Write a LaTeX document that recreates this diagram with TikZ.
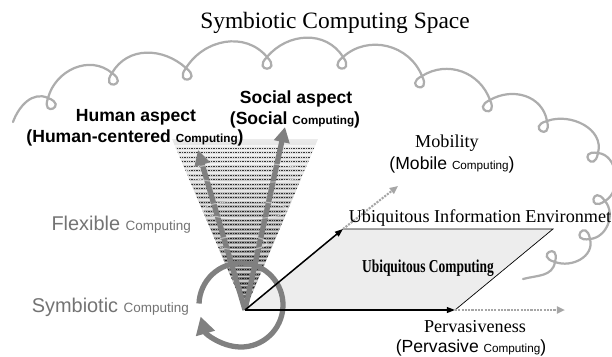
\documentclass[tikz,border=0pt]{standalone}
\usepackage{fontspec}
\setmainfont{Liberation Serif}
\setsansfont{Liberation Sans}
\usetikzlibrary{arrows.meta}

\newcommand{\cmp}{{\fontsize{10}{12}\selectfont Computing}}
\newcommand{\cmpg}{{\fontsize{11.5}{13}\selectfont Computing}}

\begin{document}
\begin{tikzpicture}[x=0.03cm, y=-0.03cm,
  cloudline/.style={black!32, line width=1.9pt, line cap=round},
  seriflabel/.style={font=\fontsize{15.5}{18}\selectfont},
  sanslabel/.style={font=\fontsize{15}{18}\selectfont\sffamily},
  aspect/.style={font=\fontsize{15}{18}\selectfont\sffamily\bfseries},
  graylabel/.style={text=black!55, font=\fontsize{17}{20}\selectfont\sffamily},
  bigarrow/.style={black!50, line width=4.5pt, -{Triangle[length=13pt,width=13pt]}},
  blackarrow/.style={line width=1.3pt, -{Triangle[length=7pt,width=5pt]}},
  dotarrow/.style={black!35, densely dotted, line width=1.8pt, -{Triangle[length=7pt,width=6pt]}}]
    \useasboundingbox (0,0) rectangle (612,356);

    % title and cloud
    \node[font=\fontsize{20}{24}\selectfont] (title) at (335,23) {Symbiotic Computing Space};
    \foreach \ax/\ay/\at/\bx/\by/\bt/\L in {
        48/98/-25/112/73/-10/29, 112/73/-10/186/68/-8/31, 186/68/-8/267/57/0/34,
        267/57/0/343/57/8/32, 343/57/8/422/76/18/34, 422/76/18/490/100/20/30,
        490/100/20/547/121/30/26, 547/121/30/598/153/55/25, 598/153/55/605/201/100/20,
        605/201/100/590/239/125/17, 590/239/125/555/262/150/18}
        \draw[cloudline] (\ax,\ay) .. controls +(\at-50:\L) and +(\bt-130:\L) .. (\bx,\by)
            .. controls +(\bt+45:22) and +(\bt+135:22) .. (\bx,\by);
    \draw[cloudline] (13,122) .. controls +(-70:17) and +(-155:17) .. (48,98)
        .. controls +(20:22) and +(110:22) .. (48,98);
    \draw[cloudline] (555,262) .. controls +(100:15) and +(-15:15) .. (523,279);

    % cone
    \coordinate (apex) at (245,310);
    \coordinate (coneL) at (172,139);
    \coordinate (coneR) at (318,139);
    \begin{scope}
        \clip (coneL) -- (coneR) -- (apex) -- cycle;
        \shade[top color=black!8, bottom color=black!62] (160,139) rectangle (330,312);
        \foreach \y in {146,150.5,...,300} {
            \draw[white, line width=1pt, opacity=0.6] (160,\y) -- (330,\y);
            \draw[black, densely dotted, line width=0.45pt, opacity=0.75] (160,\y+2.2) -- (330,\y+2.2);
        }
    \end{scope}

    % aspects
    \coordinate (humantip) at (198,150);
    \coordinate (socialtip) at (285,127);
    \draw[bigarrow] (apex) -- (humantip);
    \draw[bigarrow] (apex) -- (socialtip);
    \draw[white, opacity=0.45, line width=1pt] (246,173) ellipse [x radius=61, y radius=10];
    \draw[white, opacity=0.45, line width=1pt] (245,210) ellipse [x radius=42, y radius=9];
    \draw[white, opacity=0.45, line width=1pt] (241,243) ellipse [x radius=26, y radius=7];

    % ubiquitous plane
    \coordinate (ubB) at (455,310);
    \coordinate (ubC) at (553,229);
    \coordinate (ubD) at (343,229);
    \coordinate (mobtip) at (398,186);
    \coordinate (pertip) at (565,310);
    \coordinate (spin) at (241,305);
    \fill[black!7] (apex) -- (ubB) -- (ubC) -- (ubD) -- cycle;
    \draw[line width=0.6pt] (ubD) -- (ubC) -- (ubB);
    \draw[black!50, line width=4.5pt, -{Triangle[length=15pt,width=16pt]}]
        (spin) ++(182:42) arc[start angle=182, end angle=524, radius=42];
    \draw[blackarrow] (apex) -- (ubD);
    \draw[blackarrow] (apex) -- (ubB);
    \draw[dotarrow] (ubD) -- (mobtip);
    \draw[dotarrow] (ubB) -- (pertip);

    % labels
    \node[aspect] (human) at (136,117) {Human aspect};
    \node[aspect] (humanc) at (135,138) {(Human-centered \cmp)};
    \node[aspect] (social) at (296,99) {Social aspect};
    \node[aspect] (socialc) at (295,120) {(Social \cmp)};
    \node[graylabel, anchor=east] (flex) at (195,225) {Flexible \cmpg};
    \node[graylabel, anchor=east] (symb) at (193,307) {Symbiotic \cmpg};
    \node[seriflabel] (mob) at (447,143) {Mobility};
    \node[sanslabel] (mobc) at (452,165) {(Mobile \cmp)};
    \node[seriflabel] (uie) at (480,218) {Ubiquitous Information Environmet};
    \node[font=\fontsize{15.5}{18}\selectfont\bfseries, xscale=0.74, transform shape] (ubc) at (428,268) {Ubiquitous Computing};
    \node[seriflabel] (per) at (475,327) {Pervasiveness};
    \node[sanslabel] (perc) at (471,348) {(Pervasive \cmp)};
\end{tikzpicture}
\end{document}
